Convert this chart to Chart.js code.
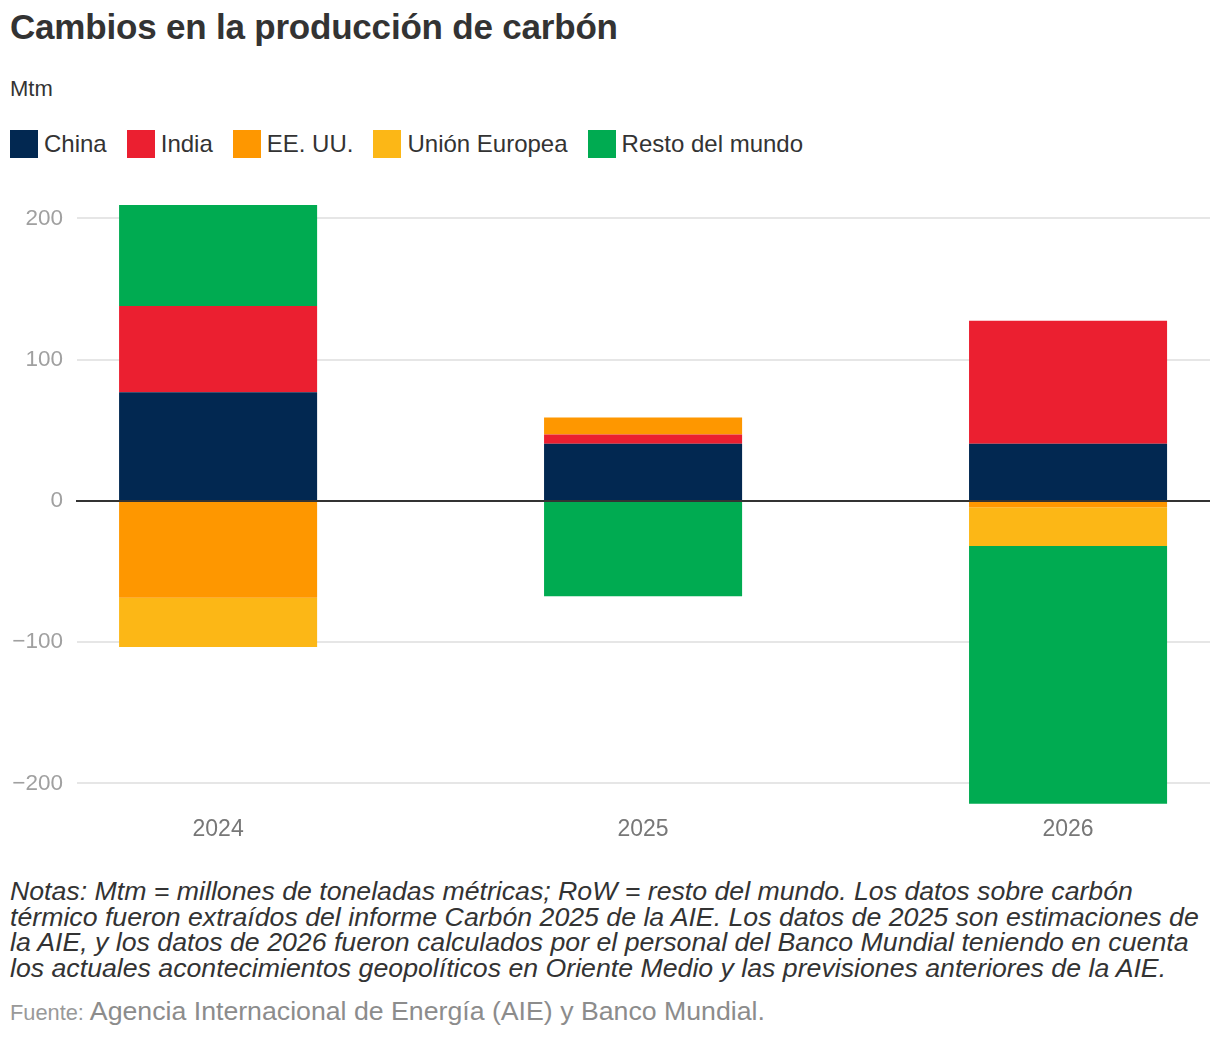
<!DOCTYPE html>
<html>
<head>
<meta charset="utf-8">
<script src="https://cdn.jsdelivr.net/npm/chart.js@4"></script>
<style>
  body { margin: 0; background: #fff; font-family: "Liberation Sans", Arial, sans-serif; color: #333; }
  #page { position: relative; width: 1220px; height: 1042px; }
  #title { position: absolute; left: 10px; top: 9px; font-size: 35px; line-height: 35px; font-weight: bold; letter-spacing: -0.2px; }
  #unit { position: absolute; left: 10px; top: 78px; font-size: 22px; line-height: 22px; }
  #legend { position: absolute; left: 10px; top: 130px; display: flex; align-items: center; }
  .item { display: flex; align-items: center; margin-right: 20px; font-size: 24px; }
  .sw { width: 28px; height: 28px; margin-right: 6px; }
  #wrap { position: absolute; left: 0; top: 173.9px; width: 1220px; height: 670px; }
  #notes { position: absolute; left: 10px; top: 879px; font-size: 26.7px; line-height: 25.7px; font-style: italic; white-space: nowrap; }
  #source { position: absolute; left: 10px; top: 998px; font-size: 26.7px; line-height: 27px; color: #8c8c8c; white-space: nowrap; }
  #source span { font-size: 21.8px; color: #999; }
</style>
</head>
<body>
<div id="page">
  <div id="title">Cambios en la producción de carbón</div>
  <div id="unit">Mtm</div>
  <div id="legend"></div>
  <div id="wrap"><canvas id="coalChart"></canvas></div>
  <div id="notes">Notas: Mtm = millones de toneladas métricas; RoW = resto del mundo. Los datos sobre carbón<br>térmico fueron extraídos del informe Carbón 2025 de la AIE. Los datos de 2025 son estimaciones de<br>la AIE, y los datos de 2026 fueron calculados por el personal del Banco Mundial teniendo en cuenta<br>los actuales acontecimientos geopolíticos en Oriente Medio y las previsiones anteriores de la AIE.</div>
  <div id="source"><span>Fuente:</span> Agencia Internacional de Energía (AIE) y Banco Mundial.</div>
</div>
<script>
// Data (Mtm)
const years = ["2024", "2025", "2026"];
const seriesNames = ["China", "India", "EE. UU.", "Unión Europea", "Resto del mundo"];
const seriesColors = ["#022851", "#eb1f30", "#fe9700", "#fcb716", "#00ab51"];
const china = [77, 40.5, 40.5];
const india = [61, 6.5, 87];
const usa = [-68.5, 12, -4.5];
const eu = [-35, 0, -27.5];
const restOfWorld = [71.5, -67.5, -182.5];
const yTicks = [-200, -100, 0, 100, 200];

const seriesValues = [china, india, usa, eu, restOfWorld];

// Legend
const legend = document.getElementById("legend");
seriesNames.forEach((name, i) => {
    const item = document.createElement("div");
    item.className = "item";
    item.innerHTML = `<div class="sw" style="background:${seriesColors[i]}"></div>${name}`;
    legend.appendChild(item);
});

// Zero line drawn over the bars
const zeroLine = {
    id: "zeroLine",
    afterDatasetsDraw(chart) {
        const { ctx, chartArea, scales } = chart;
        const y = scales.y.getPixelForValue(0);
        ctx.save();
        ctx.strokeStyle = "#333";
        ctx.lineWidth = 2;
        ctx.beginPath();
        ctx.moveTo(chartArea.left - 1, y);
        ctx.lineTo(chartArea.right, y);
        ctx.stroke();
        ctx.restore();
    }
};

const ctx = document.getElementById("coalChart").getContext("2d");
new Chart(ctx, {
    type: "bar",
    data: {
        datasets: seriesNames.map((name, s) => ({
            label: name,
            data: years.map((_, i) => ({ x: i, y: seriesValues[s][i] })),
            backgroundColor: seriesColors[s],
            borderWidth: 0,
            barPercentage: 0.466,
            categoryPercentage: 1,
        })),
    },
    options: {
        responsive: true,
        maintainAspectRatio: false,
        animation: false,
        layout: { padding: { top: 0, right: 10, bottom: 0, left: 0 } },
        plugins: { legend: { display: false }, tooltip: { enabled: false } },
        scales: {
            x: {
                type: "linear",
                stacked: true,
                offset: false,
                min: -0.332,
                max: 2.334,
                grid: { display: false, drawTicks: false },
                border: { display: false },
                afterBuildTicks: (scale) => { scale.ticks = years.map((_, i) => ({ value: i })); },
                ticks: {
                    padding: 1,
                    color: "#777",
                    font: { family: "Liberation Sans", size: 23 },
                    callback: (v) => years[v] ?? "",
                },
            },
            y: {
                stacked: true,
                min: -222,
                max: 212,
                afterBuildTicks: (scale) => { scale.ticks = yTicks.map(v => ({ value: v })); },
                afterFit: (scale) => { scale.width = 77; },
                grid: { color: "#e6e6e6", lineWidth: 2, drawTicks: false },
                border: { display: false },
                ticks: {
                    padding: 14,
                    color: "#a0a0a0",
                    font: { family: "Liberation Sans", size: 22.5 },
                    callback: (v) => (v < 0 ? "\u2212" + Math.abs(v) : String(v)),
                },
            },
        },
    },
    plugins: [zeroLine],
});
</script>
</body>
</html>
